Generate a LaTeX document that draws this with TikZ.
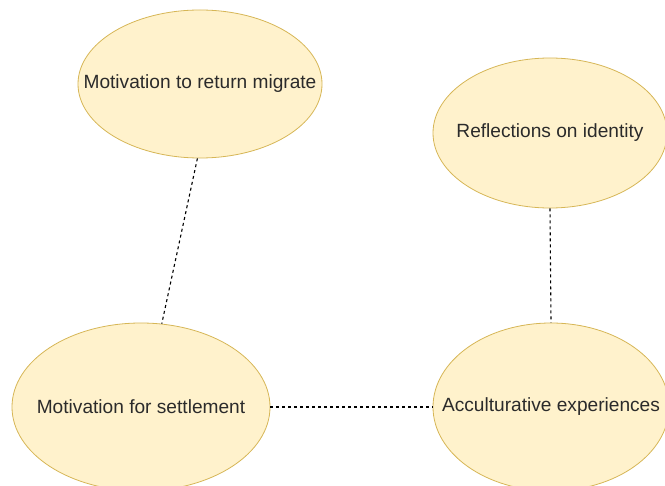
\documentclass[tikz,border=0pt]{standalone}
\usepackage{fontspec}
\setmainfont{Liberation Sans}
\usetikzlibrary{shapes.geometric}

\definecolor{themefill}{HTML}{FFF2CC}
\definecolor{themeline}{HTML}{D6B656}
\definecolor{themetext}{HTML}{2B2B2B}

\newcommand{\themelabel}[1]{\makebox[0pt]{#1}}

\begin{document}
\begin{tikzpicture}[x=1bp, y=-1bp]
		\tikzstyle{theme}=[ellipse, draw=themeline, fill=themefill, line width=0.8bp, inner sep=0pt,
			text=themetext, font=\fontsize{19.2}{22}\selectfont];
		\tikzstyle{link}=[draw=black, line width=1.1bp, dash pattern=on 3bp off 3bp];

		\useasboundingbox (0,0) rectangle (665,486);

		\node[theme, minimum width=244bp, minimum height=148bp] (return) at (200,84) {\themelabel{Motivation to return migrate}};
		\node[theme, minimum width=234bp, minimum height=150bp] (identity) at (550,133) {\themelabel{Reflections on identity}};
		\node[theme, minimum width=258bp, minimum height=168bp] (settle) at (141,407) {\themelabel{Motivation for settlement}};
		\node[theme, minimum width=236bp, minimum height=168bp] (accult) at (551,407) {\themelabel{Acculturative experiences}};

		\draw[link] (return.268) -- (settle.76);
		\draw[link] (identity.south) -- (accult.north);
		\draw[link] (settle.east) -- (accult.west);
	\end{tikzpicture}
\end{document}
